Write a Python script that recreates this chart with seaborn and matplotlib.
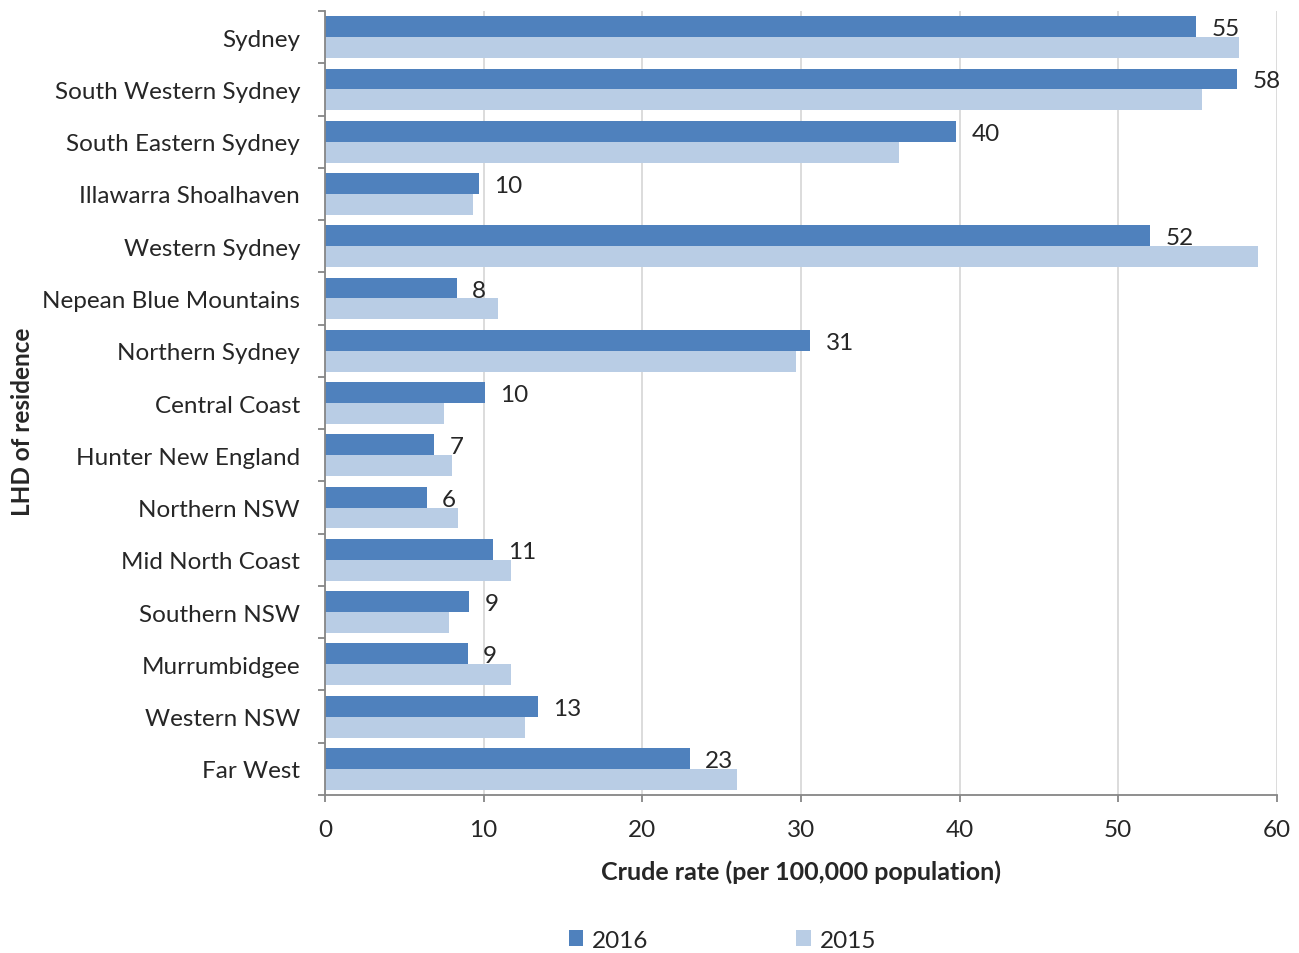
import matplotlib
matplotlib.use("Agg")
import matplotlib.pyplot as plt
from matplotlib.ticker import FixedLocator
from matplotlib.patches import Patch
import numpy as np
import pandas as pd
import seaborn as sns

districts = [
    "Sydney", "South Western Sydney", "South Eastern Sydney", "Illawarra Shoalhaven",
    "Western Sydney", "Nepean Blue Mountains", "Northern Sydney", "Central Coast",
    "Hunter New England", "Northern NSW", "Mid North Coast", "Southern NSW",
    "Murrumbidgee", "Western NSW", "Far West",
]
rate_2016 = [54.9, 57.5, 39.8, 9.7, 52.0, 8.3, 30.6, 10.1, 6.9, 6.4, 10.6, 9.1, 9.0, 13.4, 23.0]
rate_2015 = [57.6, 55.3, 36.2, 9.3, 58.8, 10.9, 29.7, 7.5, 8.0, 8.4, 11.7, 7.8, 11.7, 12.6, 26.0]
years = ["2016", "2015"]
x_ticks = [0, 10, 20, 30, 40, 50, 60]

colors = {"2016": "#4F81BD", "2015": "#B9CDE5"}
axis_grey = "#868686"
grid_grey = "#D9D9D9"

sns.set_theme(style="white")
plt.rcParams["font.family"] = ["Lato", "DejaVu Sans"]

df = pd.DataFrame({
    "LHD": districts * 2,
    "Rate": rate_2016 + rate_2015,
    "Year": ["2016"] * len(districts) + ["2015"] * len(districts),
})

fig = plt.figure(figsize=(12.99, 9.54), dpi=100)
ax = fig.add_axes([0.2502, 0.1656, 0.7327, 0.8218])

sns.barplot(data=df, y="LHD", x="Rate", hue="Year", hue_order=years,
            order=districts, palette=colors, orient="h", width=0.8,
            saturation=1, linewidth=0, ax=ax, legend=False, errorbar=None)

ax.set_xlim(0, 60)
ax.set_ylim(len(districts) - 0.5, -0.5)
ax.xaxis.set_major_locator(FixedLocator(x_ticks))
ax.set_xticklabels([str(t) for t in x_ticks], fontsize=17.5)
ax.set_axisbelow(True)
ax.grid(axis="x", color=grid_grey, linewidth=1.3)
ax.grid(axis="y", visible=False)

# category labels on centers, tick marks on boundaries
ax.tick_params(axis="y", which="major", length=0, pad=18, labelsize=17.5)
ax.yaxis.set_minor_locator(FixedLocator(np.arange(-0.5, len(districts), 1.0)))
ax.tick_params(axis="y", which="minor", length=5, width=1.3, color=axis_grey, left=True)
ax.tick_params(axis="x", which="major", length=5, width=1.3, color=axis_grey,
               bottom=True, pad=12)

for side in ("top", "right"):
    ax.spines[side].set_visible(False)
for side in ("left", "bottom"):
    ax.spines[side].set_color(axis_grey)
    ax.spines[side].set_linewidth(1.3)

# value labels on the 2016 series
labels = ax.bar_label(ax.containers[0], fmt="%.0f", padding=11, fontsize=17.5)
for t in labels:
    t.set_va("center_baseline")

ax.set_xlabel("Crude rate (per 100,000 population)", fontsize=18, fontweight="bold",
              labelpad=14)
ax.set_ylabel("LHD of residence", fontsize=17.5, fontweight="bold")
ax.yaxis.set_label_coords(-0.306, 0.477)

handles = [Patch(facecolor=colors[y], edgecolor="none", label=y) for y in years]
fig.legend(handles=handles, loc="center", bbox_to_anchor=(0.556, 0.0136), ncol=2,
           frameon=False, fontsize=17.5, handlelength=0.6, handleheight=0.6,
           handletextpad=0.35, columnspacing=6.1)

fig.savefig("out.png", dpi=100)
